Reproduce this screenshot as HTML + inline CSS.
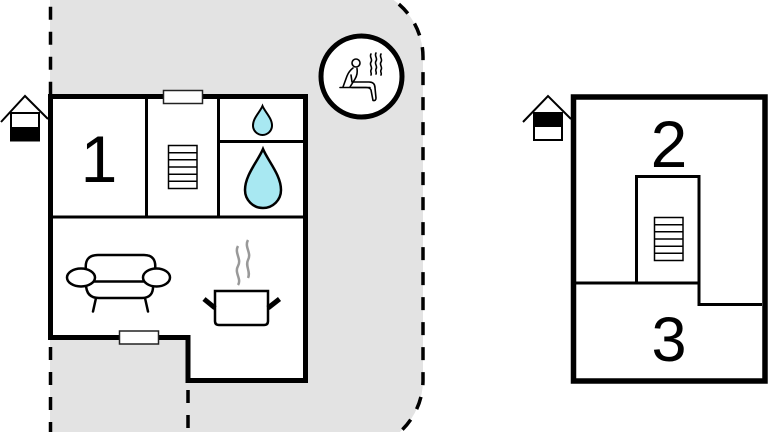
<!DOCTYPE html>
<html>
<head>
<meta charset="utf-8">
<style>
  html,body{margin:0;padding:0;background:#fff;}
  body{width:768px;height:432px;overflow:hidden;}
  svg{display:block;}
  text{font-family:"Liberation Sans",sans-serif;}
</style>
</head>
<body>
<svg width="768" height="432" viewBox="0 0 768 432" xmlns="http://www.w3.org/2000/svg">
  <!-- gray yard area -->
  <path d="M50,-13 H353 A70,70 0 0 1 423,57 V380 A70,70 0 0 1 353,450 H50 Z" fill="#e3e3e3"/>
  <!-- dashed boundaries -->
  <g fill="none" stroke="#000" stroke-width="3.5" stroke-dasharray="13 12">
    <path d="M353,-13 A70,70 0 0 1 423,57 V380 A70,70 0 0 1 353,450"/>
    <path d="M50.5,0 V94" stroke-dashoffset="18.3"/>
    <path d="M50.5,347 V432"/>
    <path d="M188,390 V432"/>
  </g>

  <!-- Building 1 -->
  <path d="M50.5,96.5 H305.5 V380.5 H188 V337.5 H50.5 Z" fill="#fff" stroke="#000" stroke-width="5"/>
  <g stroke="#000" stroke-width="3" fill="none">
    <line x1="146.5" y1="97" x2="146.5" y2="217"/>
    <line x1="218.5" y1="97" x2="218.5" y2="217"/>
    <line x1="51" y1="217" x2="305" y2="217"/>
    <line x1="218.5" y1="141.5" x2="305" y2="141.5"/>
  </g>
  <!-- windows -->
  <rect x="163.5" y="90.5" width="39" height="13" fill="#fff" stroke="#222" stroke-width="1.5"/>
  <rect x="119.5" y="331" width="39" height="13" fill="#fff" stroke="#222" stroke-width="1.5"/>

  <!-- number 1 -->
  <text x="99" y="182" font-size="66" text-anchor="middle" fill="#000">1</text>

  <!-- stairs 1 -->
  <g stroke="#000" stroke-width="1.5" fill="#fff">
    <rect x="168.5" y="145.5" width="28.5" height="43"/>
    <line x1="168.5" y1="152.7" x2="197" y2="152.7"/>
    <line x1="168.5" y1="159.8" x2="197" y2="159.8"/>
    <line x1="168.5" y1="167" x2="197" y2="167"/>
    <line x1="168.5" y1="174.2" x2="197" y2="174.2"/>
    <line x1="168.5" y1="181.3" x2="197" y2="181.3"/>
  </g>

  <!-- drops -->
  <path d="M262.5,106 C260,112 253,118 253,125.5 A9.5,9.5 0 0 0 272,125.5 C272,118 265,112 262.5,106 Z" fill="#a8e8f2" stroke="#000" stroke-width="2"/>
  <path d="M263,149 C258,161 245,175 245,190 A18,18 0 0 0 281,190 C281,175 268,161 263,149 Z" fill="#a8e8f2" stroke="#000" stroke-width="2.5"/>

  <!-- sofa -->
  <g stroke="#000" stroke-width="2.5" fill="none" stroke-linecap="round">
    <path d="M86,270 Q84,255 98,255 H144 Q157,255 155,270"/>
    <line x1="93" y1="281.5" x2="145" y2="281.5"/>
    <path d="M86,284 Q86,298 99,298 H142 Q154,298 153,284"/>
    <line x1="96" y1="298" x2="93" y2="311.5"/>
    <line x1="145" y1="298" x2="148" y2="311.5"/>
    <ellipse cx="81" cy="277.5" rx="14" ry="9" fill="#fff"/>
    <ellipse cx="156.5" cy="277.5" rx="13.5" ry="9" fill="#fff"/>
  </g>

  <!-- pot -->
  <g>
    <path d="M238,246 c-4,7 4,13 0,20 c-4,7 4,13 0,19" fill="none" stroke="#999" stroke-width="2.5"/>
    <path d="M248,240 c-4,7 4,13 0,20 c-3,6 3,12 0,18" fill="none" stroke="#999" stroke-width="2.5"/>
    <path d="M215,291 H268 V321 Q268,325 264,325 H219 Q215,325 215,321 Z" fill="#fff" stroke="#000" stroke-width="2.5"/>
    <line x1="204" y1="299" x2="215" y2="308" stroke="#000" stroke-width="5"/>
    <line x1="268" y1="308" x2="279.5" y2="299" stroke="#000" stroke-width="5"/>
  </g>

  <!-- sauna circle -->
  <circle cx="361.5" cy="76.5" r="40.5" fill="#fff" stroke="#000" stroke-width="5"/>
  <g fill="none" stroke="#000" stroke-width="1.6" stroke-linecap="round" stroke-linejoin="round">
    <circle cx="356" cy="63" r="4"/>
    <path d="M353,68 Q349,71 347,76 L343,87"/>
    <path d="M357,68.5 Q358,74 355,79 L350,87"/>
    <path d="M351,75 L352,82 L369,82 Q375,82 375,88 L376,98 Q376,101 373,100.5 L371,90 Q370,87.5 366,87.5 L352,87.5"/>
    <line x1="340" y1="87.5" x2="370" y2="87.5"/>
    <path d="M371,54 c-2,3 2,5 0,8 c-2,3 2,5 0,8 c-1,2 1,3 0,5"/>
    <path d="M376,53 c-2,3 2,5 0,8 c-2,3 2,5 0,8 c-1,2 1,3 0,5"/>
    <path d="M381,54 c-2,3 2,5 0,8 c-2,3 2,5 0,8 c-1,2 1,3 0,5"/>
  </g>

  <!-- house icon 1 -->
  <g>
    <rect x="11" y="113" width="28" height="27.5" fill="#fff" stroke="#000" stroke-width="2"/>
    <rect x="11" y="127" width="28" height="13.5" fill="#000"/>
    <polyline points="1,122 25,96 48,119" fill="none" stroke="#000" stroke-width="2"/>
  </g>

  <!-- Building 2 -->
  <rect x="573.5" y="97" width="191.5" height="284" fill="#fff" stroke="#000" stroke-width="5.5"/>
  <g stroke="#000" stroke-width="3" fill="none">
    <path d="M636.5,283 V176.5 H699 V304.5 H762"/>
    <line x1="576" y1="283" x2="699" y2="283"/>
  </g>
  <!-- stairs 2 -->
  <g stroke="#000" stroke-width="1.5" fill="#fff">
    <rect x="654.5" y="217.5" width="28.5" height="43"/>
    <line x1="654.5" y1="224.7" x2="683" y2="224.7"/>
    <line x1="654.5" y1="231.8" x2="683" y2="231.8"/>
    <line x1="654.5" y1="239" x2="683" y2="239"/>
    <line x1="654.5" y1="246.2" x2="683" y2="246.2"/>
    <line x1="654.5" y1="253.3" x2="683" y2="253.3"/>
  </g>
  <text x="669" y="167" font-size="66" text-anchor="middle" fill="#000">2</text>
  <text x="669" y="361" font-size="63" text-anchor="middle" fill="#000">3</text>

  <!-- house icon 2 -->
  <g>
    <rect x="534" y="113" width="28" height="27" fill="#fff" stroke="#000" stroke-width="2"/>
    <rect x="534" y="113" width="28" height="14" fill="#000"/>
    <polyline points="523,122 548,96 571,119" fill="none" stroke="#000" stroke-width="2"/>
  </g>
</svg>
</body>
</html>
